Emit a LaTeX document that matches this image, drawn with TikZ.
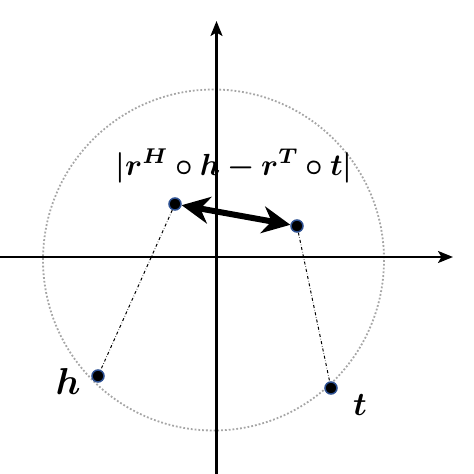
\documentclass[tikz,border=0pt]{standalone}
\usepackage{amsmath,bm}
\usetikzlibrary{arrows.meta}
\begin{document}
\begin{tikzpicture}[x=1pt,y=-1pt,
  axis/.style={line width=2.3pt,-{Stealth[length=15pt,width=12pt,inset=3.5pt]}},
  pt/.style={circle,fill=black,draw={rgb,255:red,45;green,80;blue,145},line width=1.5pt,inner sep=0pt,minimum size=12pt},
  link/.style={dash dot,line width=1pt},
  dbl/.style={line width=6pt,{Stealth[length=28pt,width=27pt,inset=9pt]}-{Stealth[length=28pt,width=27pt,inset=9pt]}},
  lbl/.style={inner sep=0pt}]
\useasboundingbox (0,0) rectangle (474,474);
\draw[gray!70,dotted,line width=1.8pt] (213.5,260) circle[radius=170.5];
\coordinate (xs) at (0,257);
\coordinate (xe) at (453,257);
\coordinate (ys) at (216.5,474);
\coordinate (ye) at (216.5,21);
\draw[axis] (xs) -- (xe);
\draw[axis] (ys) -- (ye);
\node[pt] (a) at (175,204) {};
\node[pt] (b) at (297,226) {};
\node[pt] (h) at (98,376) {};
\node[pt] (t) at (331,388) {};
\draw[link] (a) -- (h);
\draw[link] (b) -- (t);
\draw[dbl] (a) -- (b);
\node[lbl] (f) at (234,166) {\resizebox{237pt}{!}{$\bm{\lvert r^{H}\circ h - r^{T}\circ t\rvert}$}};
\node[lbl] (hl) at (68,381) {\resizebox{!}{26pt}{$\bm{h}$}};
\node[lbl] (tl) at (360,405) {\resizebox{!}{21pt}{$\bm{t}$}};
\end{tikzpicture}
\end{document}
